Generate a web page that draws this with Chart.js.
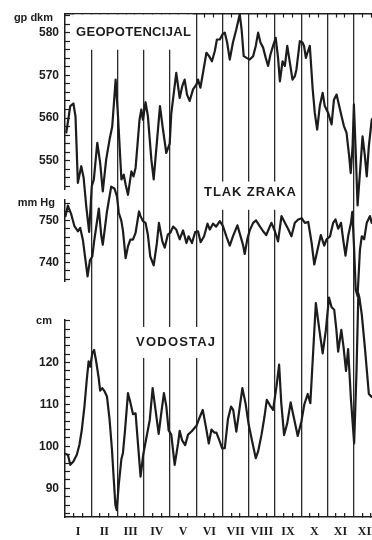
<!DOCTYPE html>
<html>
<head>
<meta charset="utf-8">
<script src="https://cdn.jsdelivr.net/npm/chart.js@4.4.1/dist/chart.umd.min.js"></script>
<style>
  html, body { margin: 0; padding: 0; background: #fff; overflow: hidden; }
  canvas { display: block; }
</style>
</head>
<body>
<canvas id="chart" width="372" height="540"></canvas>
<script>
// time axis is in months (0 = 1 Jan, 12 = 31 Dec); the plate is cut off just before the end of December
const monthNames = ["I", "II", "III", "IV", "V", "VI", "VII", "VIII", "IX", "X", "XI", "XII"];

// 500 hPa geopotential, gp dkm
const geoMonth = [0.05,0.20,0.32,0.40,0.49,0.62,0.71,0.81,0.92,1.02,
  1.10,1.23,1.34,1.44,1.57,1.70,1.80,1.93,2.02,2.15,
  2.24,2.31,2.40,2.53,2.61,2.69,2.84,2.91,2.97,3.07,
  3.16,3.29,3.38,3.62,3.73,3.86,3.99,4.05,4.24,4.37,
  4.47,4.56,4.65,4.75,4.88,5.01,5.07,5.16,5.26,5.39,
  5.49,5.60,5.71,5.79,5.90,6.00,6.09,6.18,6.28,6.40,
  6.53,6.66,6.73,6.81,6.92,7.04,7.17,7.27,7.36,7.45,
  7.55,7.65,7.74,7.83,7.93,8.03,8.12,8.19,8.29,8.38,
  8.47,8.57,8.67,8.76,8.82,8.95,9.05,9.11,9.18,9.24,
  9.33,9.44,9.52,9.61,9.71,9.82,9.90,10.03,10.16,10.25,
  10.35,10.45,10.54,10.63,10.73,10.83,10.89,10.96,11.01,11.09,
  11.15,11.24,11.34,11.43,11.50,11.58,11.69,11.85];
const geoValue = [556.6,562.8,563.4,560.4,544.8,548.7,546.0,539.3,533.3,544.0,
  545.6,554.2,549.5,542.8,550.3,555.0,558.0,569.0,560.4,545.6,
  546.7,544.4,542.0,547.5,546.3,548.3,559.6,562.0,559.6,563.7,
  560.4,550.3,545.6,562.8,557.5,551.8,554.0,561.0,570.6,564.7,
  567.5,569.0,565.5,564.0,566.7,567.9,569.0,567.1,570.6,575.3,
  574.5,573.3,575.7,578.4,578.4,579.6,580.0,577.7,573.7,577.7,
  580.8,584.3,580.8,574.5,574.1,573.7,574.5,576.9,580.0,577.7,
  576.5,574.1,572.2,574.9,576.9,578.8,574.1,568.6,573.3,572.2,
  576.9,573.0,569.0,569.8,571.4,578.0,577.7,576.9,574.1,575.3,
  576.9,566.7,561.2,557.3,562.8,565.9,562.8,561.2,558.5,564.3,
  565.5,562.8,560.4,558.1,556.5,551.0,547.1,553.4,563.2,550.3,
  539.5,547.1,555.7,551.0,546.3,553.4,559.6,561.0];

// air pressure, mm Hg
const presMonth = [0.02,0.11,0.24,0.36,0.49,0.58,0.68,0.78,0.86,0.95,
  1.04,1.11,1.18,1.29,1.38,1.44,1.53,1.60,1.76,1.89,
  1.98,2.05,2.15,2.21,2.31,2.40,2.49,2.59,2.69,2.82,
  2.88,2.97,3.07,3.16,3.25,3.38,3.50,3.58,3.71,3.80,
  3.92,4.02,4.12,4.24,4.37,4.50,4.63,4.71,4.84,4.96,
  5.07,5.17,5.30,5.43,5.52,5.64,5.76,5.90,6.02,6.15,
  6.28,6.40,6.57,6.70,6.79,6.85,6.95,7.04,7.17,7.28,
  7.42,7.55,7.67,7.81,7.87,8.00,8.12,8.25,8.38,8.50,
  8.63,8.76,8.89,9.02,9.14,9.27,9.40,9.50,9.63,9.75,
  9.88,9.97,10.10,10.22,10.31,10.41,10.52,10.60,10.69,10.79,
  10.90,10.95,11.02,11.08,11.15,11.24,11.31,11.40,11.50,11.62,11.69,11.85];
const presValue = [751.0,753.5,751.4,748.6,747.4,748.2,745.4,740.6,736.7,740.5,
  741.4,745.0,748.0,752.8,746.5,744.2,748.6,752.1,758.0,757.5,
  755.7,751.8,749.8,747.5,741.0,743.8,745.4,745.4,747.0,752.1,
  751.0,749.8,749.4,746.5,741.4,739.3,744.5,749.4,745.0,743.5,
  746.6,747.1,748.5,747.8,745.5,747.6,744.6,746.2,744.6,747.2,
  747.4,744.8,746.2,749.2,747.8,749.2,748.5,749.8,748.6,746.2,
  744.0,746.2,748.8,746.0,744.0,742.0,745.6,747.6,749.4,750.0,
  748.6,747.4,746.5,748.6,749.4,747.4,745.0,751.0,749.4,748.0,
  746.2,749.4,750.2,750.5,749.4,749.6,744.6,739.5,743.2,746.5,
  744.0,745.5,746.2,749.4,750.2,748.0,749.4,745.5,741.6,746.2,
  749.4,752.0,743.0,733.5,732.0,743.0,746.2,745.5,749.4,751.0,749.4,749.0];

// sea level (vodostaj), cm
const waterMonth = [0.02,0.11,0.20,0.32,0.45,0.55,0.64,0.74,0.83,0.90,
  0.96,1.04,1.11,1.19,1.28,1.34,1.42,1.51,1.60,1.70,
  1.79,1.86,1.92,1.97,2.05,2.15,2.21,2.29,2.40,2.49,
  2.59,2.69,2.78,2.88,2.98,3.10,3.23,3.34,3.45,3.57,
  3.67,3.77,3.86,3.95,4.05,4.18,4.31,4.37,4.46,4.58,
  4.69,4.83,5.01,5.13,5.25,5.36,5.48,5.58,5.69,5.77,
  5.88,5.99,6.09,6.21,6.33,6.41,6.53,6.76,6.88,7.00,
  7.13,7.27,7.36,7.49,7.60,7.69,7.81,7.93,8.06,8.16,
  8.24,8.35,8.47,8.60,8.69,8.87,9.01,9.12,9.25,9.35,
  9.56,9.69,9.82,9.94,10.06,10.16,10.26,10.34,10.41,10.53,
  10.61,10.71,10.79,10.90,11.02,11.11,11.18,11.22,11.31,11.43,11.58,11.69,11.85];
const waterValue = [98.2,98.0,95.6,96.4,98.0,100.4,103.9,109.5,115.9,120.3,
  119.0,122.2,123.0,120.2,116.5,113.3,113.9,113.1,111.9,106.3,
  99.2,92.0,86.0,84.8,91.0,97.0,98.5,104.0,112.7,110.5,
  107.7,107.9,100.7,92.8,98.0,102.0,106.3,113.9,108.7,103.0,
  108.0,112.7,109.6,103.8,102.8,95.6,100.7,103.7,101.5,100.3,
  102.8,103.6,104.9,106.9,108.7,105.0,100.7,104.0,103.3,103.3,
  101.5,99.5,99.6,106.5,109.5,108.7,103.5,113.9,110.3,105.2,
  101.3,97.2,98.8,102.8,107.0,111.1,109.8,108.7,114.3,119.5,
  110.5,102.7,105.5,110.5,107.8,102.5,106.0,110.0,112.5,110.3,
  134.2,128.0,122.2,127.6,135.5,133.2,132.6,128.0,122.6,127.8,
  124.0,118.0,123.2,111.0,100.7,118.0,136.5,135.5,131.5,123.5,112.5,111.8,111.5];

const INK = "#1c1c1c";
const X_MAX = 11.7;

const toPoints = (xs, ys) => xs.map((x, i) => ({ x: x, y: ys[i] }));

// month boundary, two dekad ticks and the month centre (for the label)
const buildMonthTicks = (scale) => {
  const ticks = [];
  for (let m = 0; m < 12; m++) {
    [0, 1 / 3, 0.5, 2 / 3].forEach((f) => {
      if (m + f <= X_MAX) ticks.push({ value: m + f });
    });
  }
  scale.ticks = ticks;
};

// keep the plot area fixed: no extra room for half labels
const noPadding = (s) => {
  s.paddingLeft = 0;
  s.paddingRight = 0;
  s.paddingTop = 0;
  s.paddingBottom = 0;
};

const panelAxis = (min, max, labelFrom, labelTo, weight, stackWeight) => ({
  type: "linear",
  position: "left",
  stack: "panels",
  stackWeight: stackWeight,
  weight: weight,
  min: min,
  max: max,
  border: { color: INK, width: 1.5 },
  grid: { drawOnChartArea: false, color: INK, tickLength: -5, tickWidth: 1.2 },
  ticks: {
    stepSize: 2,
    includeBounds: false,
    autoSkip: false,
    padding: 11,
    color: INK,
    font: { family: "Liberation Sans", size: 12, weight: "bold" },
    callback: (v) => (Math.abs(v % 10) < 0.01 && v >= labelFrom && v <= labelTo) ? v : "",
  },
  afterFit: (s) => { s.width = 65; noPadding(s); },
});

const spacerAxis = (weight, stackWeight) => ({
  type: "linear", position: "left", stack: "panels",
  stackWeight: stackWeight, weight: weight, display: false, min: 0, max: 1,
  afterFit: noPadding,
});

// panel titles sit on white patches that break the month lines
const panelLabels = {
  id: "panelLabels",
  beforeDatasetsDraw(chart) {
    const { ctx, chartArea, scales } = chart;
    const x = scales.x;
    const patch = (m0, m1, yTop, yBottom) => {
      ctx.fillStyle = "#fff";
      ctx.fillRect(x.getPixelForValue(m0), yTop, x.getPixelForValue(m1) - x.getPixelForValue(m0), yBottom - yTop);
    };
    ctx.save();
    patch(0.3, 4.86, chartArea.top + 1, scales.yGeo.getPixelForValue(576));
    patch(5.2, 8.85, scales.yPres.getPixelForValue(759.2), scales.yPres.getPixelForValue(752.5));
    patch(2.6, 5.84, scales.yWater.getPixelForValue(128.5), scales.yWater.getPixelForValue(121.1));

    ctx.fillStyle = INK;
    ctx.textBaseline = "middle";
    ctx.textAlign = "left";
    ctx.font = "bold 13px 'Liberation Sans'";
    ctx.letterSpacing = "0.3px";
    ctx.fillText("GEOPOTENCIJAL", x.getPixelForValue(0.42), scales.yGeo.getPixelForValue(580));
    ctx.letterSpacing = "0.9px";
    ctx.fillText("TLAK ZRAKA", x.getPixelForValue(5.3), scales.yPres.getPixelForValue(756.6));
    ctx.letterSpacing = "1.2px";
    ctx.fillText("VODOSTAJ", x.getPixelForValue(2.71), scales.yWater.getPixelForValue(124.9));

    ctx.letterSpacing = "0px";
    ctx.textAlign = "right";
    ctx.font = "bold 11px 'Liberation Sans'";
    ctx.fillText("gp dkm", 53, scales.yGeo.getPixelForValue(583.5));
    ctx.fillText("mm Hg", 55, scales.yPres.getPixelForValue(754.2));
    ctx.fillText("cm", 52, scales.yWater.getPixelForValue(130));
    ctx.restore();
  },
};

const lineStyle = {
  borderColor: INK,
  borderWidth: 2.2,
  pointRadius: 0,
  tension: 0,
  fill: false,
  clip: false,
  borderJoinStyle: "round",
  borderCapStyle: "round",
  xAxisID: "x",
};

new Chart(document.getElementById("chart"), {
  type: "line",
  data: {
    datasets: [
      { ...lineStyle, label: "Geopotencijal", data: toPoints(geoMonth, geoValue), yAxisID: "yGeo" },
      { ...lineStyle, label: "Tlak zraka", data: toPoints(presMonth, presValue), yAxisID: "yPres" },
      { ...lineStyle, label: "Vodostaj", data: toPoints(waterMonth, waterValue), yAxisID: "yWater" },
    ],
  },
  options: {
    responsive: false,
    animation: false,
    devicePixelRatio: 1,
    events: [],
    layout: { padding: 0, autoPadding: false },
    plugins: { legend: { display: false }, tooltip: { enabled: false } },
    scales: {
      x: {
        type: "linear",
        position: "bottom",
        min: 0,
        max: X_MAX,
        afterBuildTicks: buildMonthTicks,
        afterFit: (s) => { s.height = 23; noPadding(s); },
        border: { color: INK, width: 1.5 },
        grid: {
          drawOnChartArea: true,
          tickLength: -4,
          lineWidth: 1.3,
          color: (c) => (c.index % 4 === 0 && c.index > 0) ? "#2a2a2a" : "rgba(0,0,0,0)",
          tickColor: (c) => (c.index % 4 === 1 || c.index % 4 === 3) ? INK : "rgba(0,0,0,0)",
          tickWidth: 1.2,
        },
        ticks: {
          autoSkip: false,
          maxRotation: 0,
          padding: 12,
          color: INK,
          font: { family: "Liberation Serif", size: 12, weight: "bold" },
          callback: (v, i) => (i % 4 === 2 ? monthNames[Math.floor(v)] : ""),
        },
      },
      xTop: {
        type: "linear",
        position: "top",
        min: 0,
        max: X_MAX,
        afterBuildTicks: buildMonthTicks,
        afterFit: (s) => { s.height = 13.5; noPadding(s); },
        border: { color: INK, width: 1.5 },
        grid: {
          drawOnChartArea: false,
          tickLength: -4,
          tickWidth: 1.2,
          color: (c) => (c.index % 4 === 1 || c.index % 4 === 3) ? INK : "rgba(0,0,0,0)",
        },
        ticks: { display: false },
      },
      yWater: panelAxis(83.15, 130.2, 90, 120, 1, 197),
      yGap2: spacerAxis(2, 38),
      yPres: panelAxis(735.4, 754.9, 740, 750, 3, 82),
      yGap1: spacerAxis(4, 10),
      yGeo: panelAxis(543.2, 584.5, 550, 580, 5, 176),
    },
  },
  plugins: [panelLabels],
});
</script>
</body>
</html>
